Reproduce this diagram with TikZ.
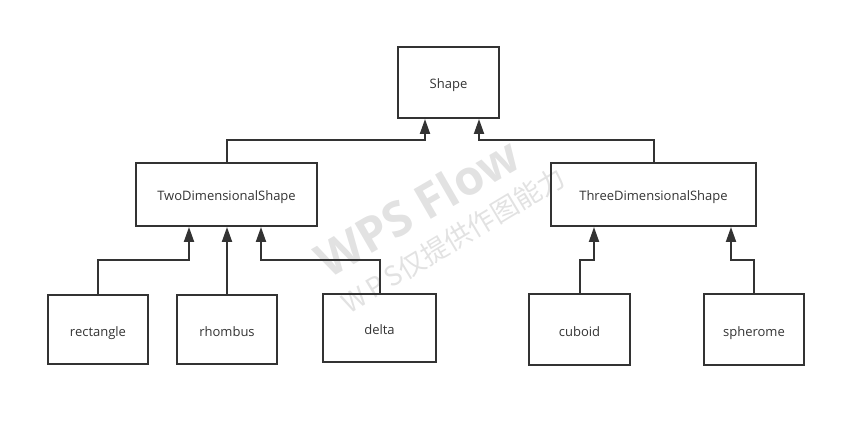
\documentclass[tikz,border=0pt]{standalone}
\usepackage{fontspec}
\setmainfont{Open Sans}
\newfontfamily\cjk{Noto Sans CJK SC}
\usetikzlibrary{arrows.meta}
\definecolor{ink}{HTML}{333333}
\definecolor{mark}{HTML}{E2E2E2}
\tikzset{
  cls/.style={draw=ink, line width=2pt, text=ink, font=\fontsize{13}{15}\selectfont, inner sep=0pt, text height=13pt, text depth=0pt},
  conn/.style={draw=ink, line width=2pt, -{Triangle[length=15pt,width=10pt]}},
}

\begin{document}
\begin{tikzpicture}[x=1pt, y=-1pt]
    \useasboundingbox (0,0) rectangle (866,427);
    \def\elbow{-34}

    % watermark
    \node[text=mark, rotate=30, font=\fontsize{48}{48}\selectfont\bfseries] (wm) at (417,207) {WPS Flow};
    \node[text=mark, rotate=31, font=\cjk\fontsize{27}{27}\selectfont] (wmsub) at (453,240) {W\,P\,S仅提供作图能力};

    \node[cls, minimum width=101pt, minimum height=71pt] (shape) at (448.5,82.5) {Shape};

    \node[cls, minimum width=181pt, minimum height=63pt] (two) at (226.5,194.5) {TwoDimensionalShape};
    \node[cls, minimum width=205pt, minimum height=63pt] (three) at (653.5,194.5) {ThreeDimensionalShape};

    \node[cls, minimum width=100pt, minimum height=69pt] (rect) at (98,329.5) {rectangle};
    \node[cls, minimum width=100pt, minimum height=69pt] (rhombus) at (227,329.5) {rhombus};
    \node[cls, minimum width=113pt, minimum height=68pt] (delta) at (379.5,328) {delta};
    \node[cls, minimum width=101pt, minimum height=71pt] (cuboid) at (579.5,329.5) {cuboid};
    \node[cls, minimum width=100pt, minimum height=71pt] (spherome) at (754,329.5) {spherome};

    % generalisation
    \draw[conn] (two.north) -- ++(0,-22) -| ([xshift=-23.5pt]shape.south);
    \draw[conn] (three.north) -- ++(0,-22) -| ([xshift=30.5pt]shape.south);

    \draw[conn] (rect.north) -- ++(0,\elbow) -| ([xshift=-37.5pt]two.south);
    \draw[conn] (rhombus.north) -- (rhombus.north |- two.south);
    \draw[conn] (delta.north) -- ++(0,-33) -| ([xshift=34.5pt]two.south);

    \draw[conn] (cuboid.north) -- ++(0,-33) -| ([xshift=-59.5pt]three.south);
    \draw[conn] (spherome.north) -- ++(0,-33) -| ([xshift=77.5pt]three.south);

\end{tikzpicture}
\end{document}
